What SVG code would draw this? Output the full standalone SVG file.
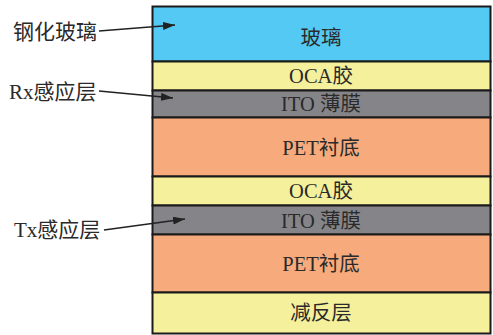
<svg xmlns="http://www.w3.org/2000/svg" width="493" height="335" viewBox="0 0 493 335">
<style>
.l{stroke:#1a1a1a;stroke-width:2}
.t{font-family:"Liberation Serif","Noto Sans CJK SC",serif;font-size:20.5px;fill:#2a2a2a;text-anchor:middle}
.lab{font-family:"Liberation Serif","Noto Sans CJK SC",serif;font-size:21px;fill:#2a2a2a}
.c{stroke:#222;stroke-width:1.5;fill:none;marker-end:url(#a)}
</style>
<defs>
<marker id="a" viewBox="0 0 12 8" refX="12" refY="4" markerWidth="12" markerHeight="8" markerUnits="userSpaceOnUse" orient="auto">
<path d="M0,0 L12,4 L0,8 z" fill="#222"/>
</marker>
</defs>
<rect width="493" height="335" fill="#fff"/>
<g id="glass"><rect class="l" x="152.5" y="6.5" width="338" height="55" fill="#53C9F3"/><text class="t" x="321" y="45">玻璃</text></g>
<g id="oca1"><rect class="l" x="152.5" y="61.5" width="338" height="29" fill="#F5F09B"/><text class="t" x="321" y="83">OCA胶</text></g>
<g id="ito1"><rect class="l" x="152.5" y="90.5" width="338" height="27" fill="#858589"/><text class="t" x="321" y="111">ITO 薄膜</text></g>
<g id="pet1"><rect class="l" x="152.5" y="117.5" width="338" height="59" fill="#F7AB7C"/><text class="t" x="321" y="155">PET衬底</text></g>
<g id="oca2"><rect class="l" x="152.5" y="176.5" width="338" height="29" fill="#F5F09B"/><text class="t" x="321" y="198">OCA胶</text></g>
<g id="ito2"><rect class="l" x="152.5" y="205.5" width="338" height="29" fill="#858589"/><text class="t" x="321" y="228">ITO 薄膜</text></g>
<g id="pet2"><rect class="l" x="152.5" y="234.5" width="338" height="58" fill="#F7AB7C"/><text class="t" x="321" y="271">PET衬底</text></g>
<g id="ar"><rect class="l" x="152.5" y="292.5" width="338" height="41" fill="#F5F09B"/><text class="t" x="321" y="320">减反层</text></g>
<g id="label-glass"><text class="lab" x="13" y="39">钢化玻璃</text></g>
<g id="label-rx"><text class="lab" x="9" y="99">Rx感应层</text></g>
<g id="label-tx"><text class="lab" x="14" y="237">Tx感应层</text></g>
<g id="connectors">
<path class="c" d="M99,31 L175,25"/>
<path class="c" d="M99,91 L173,98"/>
<path class="c" d="M104,230 L185,219"/>
</g>
</svg>
